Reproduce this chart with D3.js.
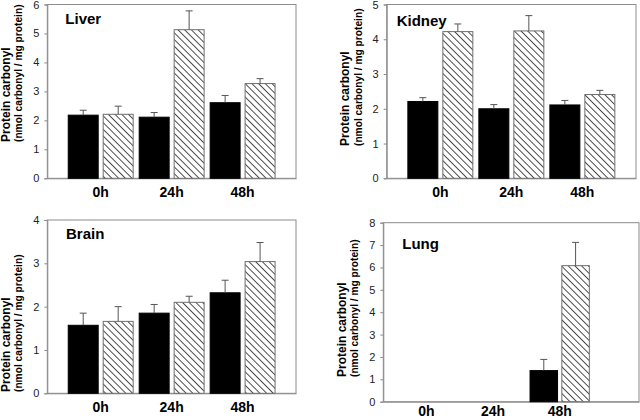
<!DOCTYPE html>
<html>
<head>
<meta charset="utf-8">
<script src="https://cdn.jsdelivr.net/npm/d3@7"></script>
<style>
  html, body { margin: 0; padding: 0; background: #fff; }
  svg { display: block; font-family: "Liberation Sans", Arial, sans-serif; }
</style>
</head>
<body>
<svg id="chart" width="640" height="420"></svg>
<script>
// ---------- data ----------
const timepoints = ["0h", "24h", "48h"];
const seriesNames = ["control", "treated"];

const liverControl    = [2.18, 2.11, 2.61];
const liverControlErr = [0.17, 0.16, 0.25];
const liverTreated    = [2.21, 5.13, 3.27];
const liverTreatedErr = [0.28, 0.65, 0.17];

const kidneyControl    = [2.21, 2.00, 2.11];
const kidneyControlErr = [0.11, 0.12, 0.13];
const kidneyTreated    = [4.22, 4.24, 2.41];
const kidneyTreatedErr = [0.22, 0.44, 0.12];

const brainControl    = [1.57, 1.85, 2.32];
const brainControlErr = [0.28, 0.20, 0.29];
const brainTreated    = [1.66, 2.10, 3.04];
const brainTreatedErr = [0.34, 0.14, 0.44];

const lungControl    = [null, null, 1.39];
const lungControlErr = [null, null, 0.50];
const lungTreated    = [null, null, 6.08];
const lungTreatedErr = [null, null, 1.04];

const liverTicks  = [0, 1, 2, 3, 4, 5, 6];
const kidneyTicks = [0, 1, 2, 3, 4, 5];
const brainTicks  = [0, 1, 2, 3, 4];
const lungTicks   = [0, 1, 2, 3, 4, 5, 6, 7, 8];

const yTitle1 = "Protein carbonyl";
const yTitle2 = "(nmol carbonyl / mg protein)";

// ---------- layout ----------
const panels = [
  { name: "Liver",  ctrl: liverControl,  ctrlErr: liverControlErr,  trt: liverTreated,  trtErr: liverTreatedErr,  ticks: liverTicks,
    x0: 47.3, x1: 296, y0: 4.5, y1: 178.3, po: 0.295, pi: 0.085, align: 0.5, innerPi: 0.143,
    titleX: 18, titleY: 19, labelPad: 9, yTitleStart: 142 },
  { name: "Kidney", ctrl: kidneyControl, ctrlErr: kidneyControlErr, trt: kidneyTreated, trtErr: kidneyTreatedErr, ticks: kidneyTicks,
    x0: 386.7, x1: 636, y0: 4.5, y1: 178.3, po: 0.298, pi: 0.085, align: 0.5, innerPi: 0.143,
    titleX: 10, titleY: 21.5, labelPad: 8.5, yTitleStart: 146 },
  { name: "Brain",  ctrl: brainControl,  ctrlErr: brainControlErr,  trt: brainTreated,  trtErr: brainTreatedErr,  ticks: brainTicks,
    x0: 47.3, x1: 296, y0: 220, y1: 393.3, po: 0.295, pi: 0.085, align: 0.5, innerPi: 0.143,
    titleX: 18.7, titleY: 18.5, labelPad: 8.5, yTitleStart: 392 },
  { name: "Lung",   ctrl: lungControl,   ctrlErr: lungControlErr,   trt: lungTreated,   trtErr: lungTreatedErr,   ticks: lungTicks,
    x0: 383.3, x1: 639, y0: 222.7, y1: 401.7, po: 0.4725, pi: 0.111, align: 0.212, innerPi: 0.135,
    titleX: 19, titleY: 26.6, labelPad: 4.5, yTitleStart: 377 }
];

const svg = d3.select("#chart");
const defs = svg.append("defs");
defs.append("pattern")
  .attr("id", "hatch")
  .attr("patternUnits", "userSpaceOnUse")
  .attr("width", 4.74).attr("height", 4.74)
  .attr("patternTransform", "rotate(-45)")
  .call(p => {
    p.append("rect").attr("width", 4.74).attr("height", 4.74).attr("fill", "#fff");
    p.append("line").attr("x1", 0.5).attr("y1", 0).attr("x2", 0.5).attr("y2", 4.74)
      .attr("stroke", "#3a3a3a").attr("stroke-width", 0.9);
  });

const frameColor = "#8c8c8c";

panels.forEach(P => {
  const g = svg.append("g");
  const x = d3.scaleBand().domain(timepoints).range([P.x0, P.x1])
    .paddingInner(P.pi).paddingOuter(P.po).align(P.align);
  const xs = d3.scaleBand().domain(seriesNames).range([0, x.bandwidth()]).paddingInner(P.innerPi);
  const y = d3.scaleLinear().domain([P.ticks[0], P.ticks[P.ticks.length - 1]]).range([P.y1, P.y0]);

  // frame
  g.append("rect")
    .attr("x", P.x0).attr("y", P.y0)
    .attr("width", P.x1 - P.x0).attr("height", P.y1 - P.y0)
    .attr("fill", "none").attr("stroke", frameColor).attr("stroke-width", 1);

  // y axis
  const ya = g.append("g").attr("transform", `translate(${P.x0},0)`)
    .call(d3.axisLeft(y).tickValues(P.ticks).tickFormat(d3.format("d")).tickSize(3).tickPadding(5));
  ya.select(".domain").attr("stroke", frameColor);
  ya.selectAll(".tick line").attr("stroke", frameColor);
  ya.selectAll(".tick text").attr("font-size", 11).attr("fill", "#222")
    .attr("font-family", "'Liberation Sans', Arial, sans-serif");

  // x axis labels
  const xa = g.append("g").attr("transform", `translate(0,${P.y1})`)
    .call(d3.axisBottom(x).tickSize(0).tickPadding(P.labelPad));
  xa.select(".domain").attr("stroke", frameColor);
  xa.selectAll(".tick text").attr("font-size", 14).attr("font-weight", "bold").attr("fill", "#000")
    .attr("font-family", "'Liberation Sans', Arial, sans-serif");

  // bars
  const rows = [];
  timepoints.forEach((t, i) => {
    rows.push({ t, s: "control", v: P.ctrl[i], e: P.ctrlErr[i] });
    rows.push({ t, s: "treated", v: P.trt[i], e: P.trtErr[i] });
  });
  const valid = rows.filter(d => d.v != null);

  g.selectAll(".bar").data(valid).enter().append("rect")
    .attr("x", d => x(d.t) + xs(d.s))
    .attr("y", d => y(d.v))
    .attr("width", xs.bandwidth())
    .attr("height", d => y(0) - y(d.v))
    .attr("fill", d => d.s === "control" ? "#000" : "url(#hatch)")
    .attr("stroke", d => d.s === "control" ? "#000" : "#6e6e6e")
    .attr("stroke-width", 1);

  // error bars (upper only)
  const eb = g.selectAll(".err").data(valid).enter().append("g")
    .attr("stroke", "#555").attr("stroke-width", 1);
  eb.append("line")
    .attr("x1", d => x(d.t) + xs(d.s) + xs.bandwidth() / 2)
    .attr("x2", d => x(d.t) + xs(d.s) + xs.bandwidth() / 2)
    .attr("y1", d => y(d.v)).attr("y2", d => y(d.v + d.e));
  eb.append("line")
    .attr("x1", d => x(d.t) + xs(d.s) + xs.bandwidth() / 2 - 3.5)
    .attr("x2", d => x(d.t) + xs(d.s) + xs.bandwidth() / 2 + 3.5)
    .attr("y1", d => y(d.v + d.e)).attr("y2", d => y(d.v + d.e));

  // panel title
  g.append("text")
    .attr("x", P.x0 + P.titleX).attr("y", P.y0 + P.titleY)
    .attr("font-size", 15).attr("font-weight", "bold").attr("fill", "#000")
    .text(P.name);

  // y title (two lines)
  g.append("text")
    .attr("transform", `translate(${P.x0 - 37.8},${P.yTitleStart}) rotate(-90)`)
    .attr("font-size", 12).attr("font-weight", "bold").attr("fill", "#000")
    .text(yTitle1);
  g.append("text")
    .attr("transform", `translate(${P.x0 - 25},${P.yTitleStart}) rotate(-90)`)
    .attr("font-size", 10.2).attr("font-weight", "bold").attr("fill", "#000")
    .text(yTitle2);
});
</script>
</body>
</html>
